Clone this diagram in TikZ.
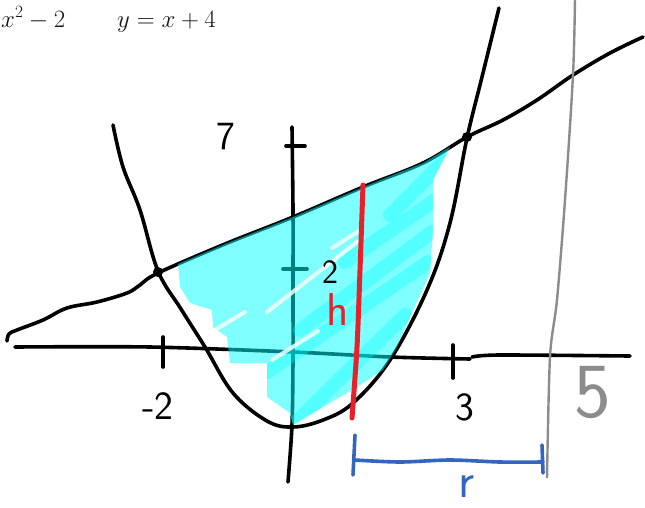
\documentclass[tikz,border=0pt]{standalone}
\usepackage{tikz}
\usetikzlibrary{positioning}
\definecolor{areacyan}{RGB}{0,255,255}
\definecolor{hred}{RGB}{232,32,42}
\definecolor{rblue}{RGB}{52,102,192}
\definecolor{fivegray}{RGB}{140,140,140}
\definecolor{eqgray}{RGB}{20,20,20}

\begin{document}
\begin{tikzpicture}[
    x=1pt, y=-1pt,
    pen/.style={line width=3.6pt, line cap=round, line join=round},
    hand/.style={font=\sffamily\fontsize{#1}{#1}\selectfont, inner sep=0pt},
    eq/.style={font=\fontsize{27}{32}\selectfont, inner sep=0pt, text=eqgray},
    streak/.style={areacyan, line width=14pt, opacity=0.35, line cap=round},
    gap/.style={white, line width=4pt, opacity=0.8, line cap=round}
  ]
    \useasboundingbox (0,0) rectangle (645,507);

    % equations at the top
    \node[eq, anchor=base west] (eqpar) at (1,27) {$x^2-2$};
    \node[eq, anchor=base west] (eqline) at (117,27) {$y=x+4$};

    % axes
    \draw[pen] plot[smooth] coordinates {(15,347) (150,347) (293,352) (390,357) (470,359)};
    \draw[pen] plot[smooth] coordinates {(472,357) (500,355) (630,356)};
    \draw[pen] plot[smooth] coordinates {(292,127) (293,210) (293,290) (293,360) (292,425) (288,482)};

    % ticks
    \draw[pen] (286,146) -- (305,146);
    \draw[pen] (283,269) -- (307,269);
    \draw[pen] (163,337) -- (163,367);
    \draw[pen] (453,345) -- (453,378);

    % y = x + 4
    \draw[pen] plot[smooth, tension=0.6] coordinates {(7,341) (9,334) (17,330) (43,320) (67,308)
      (97,302) (127,293) (140,285) (158,273) (225,244) (293,217) (363,187) (423,163)
      (467,137) (503,120) (537,100) (573,75) (610,53) (643,37)};

    % y = x^2 - 2
    \draw[pen] plot[smooth, tension=0.6] coordinates {(113,125) (123,167) (140,210) (158,271)
      (181,309) (205,347) (233,393) (267,421) (293,427) (323,420) (353,403) (390,360)
      (427,290) (450,223) (467,138) (482,77) (499,8)};

    % intersections
    \coordinate (A) at (158,272);
    \coordinate (B) at (467,137);
    \draw[line width=2.8pt] (A) circle (3.5);
    \draw[line width=2.8pt] (B) circle (3.5);

    % shaded region
    \begin{scope}
      \path[clip] (178,264) -- (225,244) -- (293,217) -- (363,187) -- (423,163) -- (448,148)
        -- (450,147) -- (433,180) -- (433,230) -- (430,273) -- (410,317) -- (397,347)
        -- (383,370) -- (357,387) -- (323,407) -- (293,425) -- (290,413) -- (267,397)
        -- (267,363) -- (230,363) -- (227,337) -- (213,327) -- (212,310) -- (190,303)
        -- (180,287) -- cycle;
      \fill[areacyan, opacity=0.5] (150,130) rectangle (470,430);
      \draw[streak] (293,425) -- (405,315);
      \draw[streak] (267,372) -- (428,262);
      \draw[streak] (300,330) -- (432,232);
      \draw[streak] (345,262) -- (435,200);
      \draw[streak] (390,215) -- (445,160);
      \draw[gap] (267,312) -- (357,242);
      \draw[gap] (272,360) -- (318,331);
      \draw[gap] (332,248) -- (362,229);
      \draw[gap] (215,330) -- (245,312);
    \end{scope}

    % height strip
    \draw[hred, line width=5pt, line cap=round] plot[smooth] coordinates {(363,185) (360,270) (357,347) (352,418)};

    % radius bracket
    \draw[rblue, pen] (355,435) -- (353,475);
    \draw[rblue, pen] plot[smooth] coordinates {(355,460) (400,462) (450,460) (500,462) (543,462)};
    \draw[rblue, pen] (542,445) -- (543,473);

    % x = 5
    \draw[fivegray, line width=2.4pt] plot[smooth] coordinates {(575,-2) (573,75) (565,200) (557,300) (550,357) (547,478)};

    % labels
    \node[hand=40] (lab7) at (226,137) {7};
    \node[hand=34] (lab2) at (330,272) {2};
    \node[hand=46, text=hred] (labh) at (338,310) {h};
    \node[hand=40] (labm2) at (158,406) {-2};
    \node[hand=40] (lab3) at (465,407) {3};
    \node[hand=50, text=rblue] (labr) at (466,487) {r};
    \node[hand=78, text=fivegray] (lab5) at (593,393) {5};
  \end{tikzpicture}
\end{document}
